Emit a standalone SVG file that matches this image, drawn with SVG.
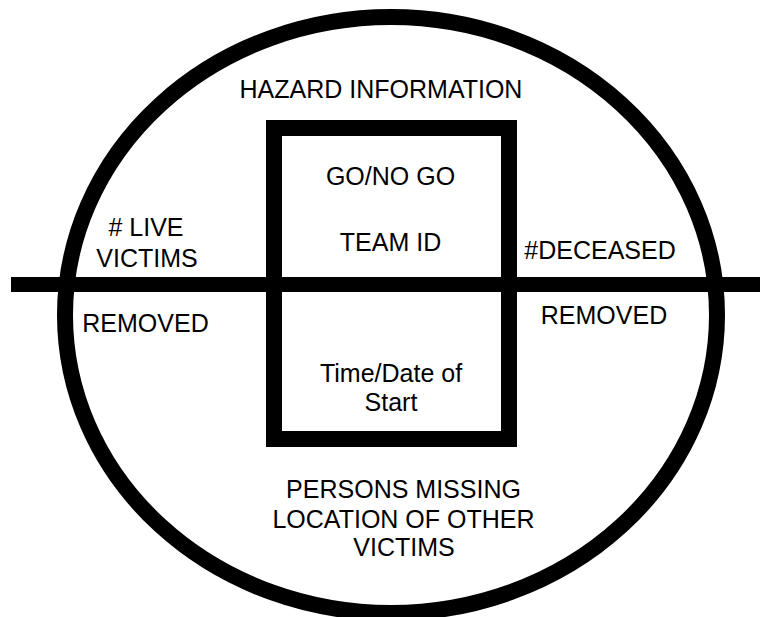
<svg xmlns="http://www.w3.org/2000/svg" width="760" height="617" viewBox="0 0 760 617">
<style>
.t{font-family:"Liberation Sans",Arial,sans-serif;font-size:25px;fill:#000;text-anchor:middle}
.s{fill:none;stroke:#000}
</style>
<rect width="760" height="617" fill="#fff"/>
<g id="outer-ellipse"><ellipse class="s" cx="391" cy="315" rx="326" ry="298" stroke-width="16"/></g>
<g id="connectors"><line class="s" x1="11" y1="284.5" x2="760" y2="284.5" stroke-width="15"/></g>
<g id="center-box"><rect class="s" x="274" y="128" width="235" height="311" stroke-width="16"/></g>
<g id="hazard"><text class="t" x="381" y="97.5">HAZARD INFORMATION</text></g>
<g id="go-no-go"><text class="t" x="390.5" y="185">GO/NO GO</text></g>
<g id="team-id"><text class="t" x="390.5" y="251">TEAM ID</text></g>
<g id="live-victims"><text class="t" x="146" y="236"># LIVE</text><text class="t" x="147" y="267">VICTIMS</text><text class="t" x="145.5" y="332">REMOVED</text></g>
<g id="deceased"><text class="t" x="600" y="258.5">#DECEASED</text><text class="t" x="604" y="323.5">REMOVED</text></g>
<g id="time-date"><text class="t" x="391" y="382">Time/Date of</text><text class="t" x="391" y="411">Start</text></g>
<g id="persons-missing"><text class="t" x="403.5" y="498">PERSONS MISSING</text><text class="t" x="403.5" y="528">LOCATION OF OTHER</text><text class="t" x="404" y="556">VICTIMS</text></g>
</svg>
